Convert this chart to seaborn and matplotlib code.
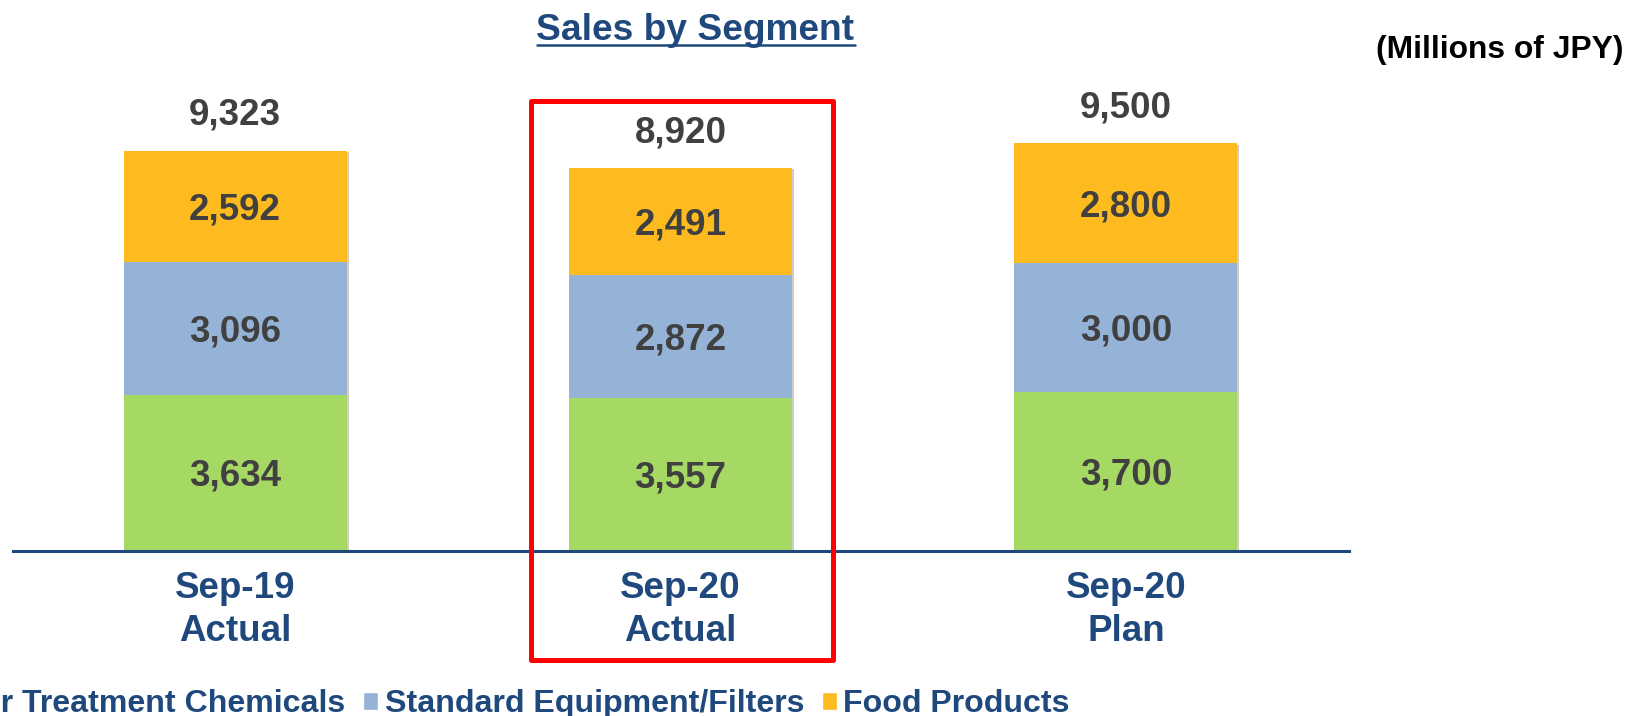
import matplotlib
matplotlib.use("Agg")
import matplotlib.pyplot as plt
import matplotlib.patheffects as pe
from matplotlib.patches import Patch, Rectangle
from matplotlib.lines import Line2D
import seaborn as sns
import pandas as pd

# Data (millions of JPY)
periods = ["Sep-19\nActual", "Sep-20\nActual", "Sep-20\nPlan"]
water_chem = [3634, 3557, 3700]
equipment = [3096, 2872, 3000]
food = [2592, 2491, 2800]
totals = [9323, 8920, 9500]
segments = ["Water Treatment Chemicals", "Standard Equipment/Filters", "Food Products"]

GREEN = "#A6D864"
BLUE = "#95B3D7"
YELLOW = "#FEBB20"
NAVY = "#1F497D"
GREY = "#404040"

W, H = 1629, 716

sns.set_theme(style="white")
plt.rcParams["font.family"] = ["Liberation Sans", "DejaVu Sans"]
plt.rcParams["font.weight"] = "bold"

df = pd.DataFrame({"period": periods, "water": water_chem,
                   "equip": equipment, "food": food})
df["mid"] = df["water"] + df["equip"]
df["top"] = df["mid"] + df["food"]

fig = plt.figure(figsize=(W / 100, H / 100), dpi=100)
ax = fig.add_axes([12.5 / W, 165.4 / H, 1336 / W, 514.6 / H])

# stacked bars drawn as overlapping cumulative layers
layers = [("top", YELLOW), ("mid", BLUE), ("water", GREEN)]
for col, color in layers:
    sns.barplot(data=df, x="period", y=col, color=color, saturation=1,
                width=0.5, errorbar=None, linewidth=0, ax=ax)

# soft shadow on the full bars
for p in ax.patches[:3]:
    p.set_path_effects([pe.SimplePatchShadow(offset=(1.5, -1), alpha=0.25),
                        pe.Normal()])

# segment value labels
for i in range(len(periods)):
    bottoms = [0, water_chem[i], water_chem[i] + equipment[i]]
    for val, b in zip([water_chem[i], equipment[i], food[i]], bottoms):
        ax.annotate(f"{val:,}", (i, b + val / 2), xytext=(0, -2.6),
                    textcoords="offset points", ha="center", va="center",
                    fontsize=26.5, color=GREY, fontweight="bold")
    ax.annotate(f"{totals[i]:,}", (i, df["top"][i]), xytext=(0, 25.5),
                textcoords="offset points", ha="center", va="center",
                fontsize=26.5, color=GREY, fontweight="bold")

ax.set(xlabel=None, ylabel=None, ylim=(0, 12000), xlim=(-0.5, 2.5))
ax.set_yticks([])
sns.despine(ax=ax, left=True, top=True, right=True)
ax.spines["bottom"].set_color(NAVY)
ax.spines["bottom"].set_linewidth(2.2)
ax.tick_params(axis="x", length=0, pad=15, labelsize=26.5, labelcolor=NAVY)
for lbl in ax.get_xticklabels():
    lbl.set_linespacing(1.28)

# title + units
title = fig.text(695.5 / W, 1 - 40 / H, "Sales by Segment", ha="center",
                 va="baseline", fontsize=26.7, color=NAVY)
fig.text(1623 / W, 1 - 58 / H, "(Millions of JPY)", ha="right",
         va="baseline", fontsize=22.9, color="black")

fig.canvas.draw()
bb = title.get_window_extent()
y_ul = (H - 45) / H
fig.add_artist(Line2D([bb.x0 / W, bb.x1 / W], [y_ul, y_ul], color=NAVY,
                      linewidth=1.8, transform=fig.transFigure))

# red highlight box around current period
fig.add_artist(Rectangle((530.5 / W, 56.5 / H), 302.5 / W, 559 / H,
                         fill=False, edgecolor="#FF0000", linewidth=3.6,
                         joinstyle="round", transform=fig.transFigure))

# legend (runs off the left edge as in the source slide)
handles = [Patch(facecolor=c, label=s)
           for c, s in zip([GREEN, BLUE, YELLOW], segments)]
fig.legend(handles=handles, loc="center left",
           bbox_to_anchor=(-97 / W, 12 / H), ncol=3, frameon=False,
           fontsize=23.1, labelcolor=NAVY, handlelength=0.48,
           handleheight=0.48, handletextpad=0.2, columnspacing=0.55,
           borderpad=0, borderaxespad=0)

fig.savefig("out.png", dpi=100)
